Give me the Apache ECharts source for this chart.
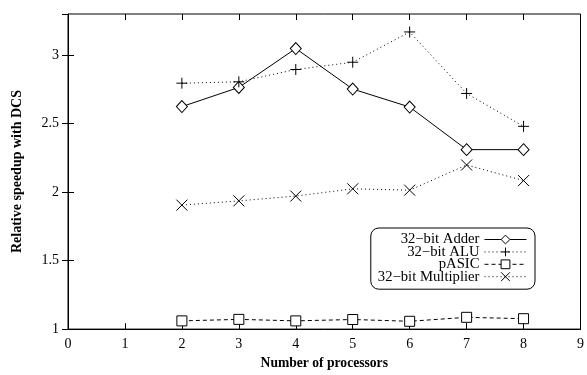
<!DOCTYPE html>
<html>
<head>
<meta charset="utf-8">
<script src="https://cdn.jsdelivr.net/npm/echarts@6/dist/echarts.min.js"></script>
<style>
    html, body { margin: 0; padding: 0; background: #fff; }
    #chart1 { width: 587px; height: 375px; }
</style>
</head>
<body>
<div id="chart1"></div>
<script>
// data
var processors = [2, 3, 4, 5, 6, 7, 8];
var adder = [2.624, 2.764, 3.048, 2.752, 2.621, 2.31, 2.31];
var alu = [2.795, 2.805, 2.895, 2.948, 3.169, 2.72, 2.48];
var pasic = [1.06, 1.071, 1.06, 1.07, 1.057, 1.086, 1.076];
var multiplier = [1.905, 1.936, 1.971, 2.024, 2.014, 2.198, 2.084];
var seriesNames = ['32\u2212bit Adder', '32\u2212bit ALU', 'pASIC', '32\u2212bit Multiplier'];

var serif = "'Liberation Serif', 'DejaVu Serif', serif";
var plusPath = 'path://M5,0L5,10M0,5L10,5';
var crossPath = 'path://M0,0L10,10M0,10L10,0';

function pairs(vals) {
    var out = [];
    for (var i = 0; i < processors.length; i++) {
        out.push([processors[i], vals[i]]);
    }
    return out;
}

function makeSeries(name, vals, symbol, size, dash) {
    return {
        name: name,
        type: 'line',
        symbol: symbol,
        symbolSize: size,
        showAllSymbol: true,
        lineStyle: {
            color: '#000',
            width: 1,
            type: dash
        },
        itemStyle: {
            color: '#fff',
            borderColor: '#000',
            borderWidth: 1
        },
        emphasis: { disabled: true },
        z: 3,
        data: pairs(vals)
    };
}

drawChart1();

// chart1
function drawChart1() {
    var dom1 = document.getElementById("chart1");
    var myChart1 = echarts.init(dom1);
    var tickStyle = { inside: true, length: 6, lineStyle: { color: '#000', width: 1 } };
    var option = {
        backgroundColor: '#fff',
        animation: false,
        textStyle: { fontFamily: serif },
        grid: {
            left: 68,
            right: 5,
            top: 14,
            bottom: 39,
            containLabel: false,
            show: true,
            borderColor: '#000',
            borderWidth: 1
        },
        legend: {
            orient: 'vertical',
            align: 'right',
            right: 52,
            top: 228,
            padding: [4, 8, 5, 7],
            itemGap: -2.6,
            itemWidth: 42,
            itemHeight: 11,
            borderColor: '#000',
            borderWidth: 1,
            borderRadius: 8,
            backgroundColor: '#fff',
            selectedMode: false,
            lineStyle: { width: 1 },
            itemStyle: { borderWidth: 1 },
            textStyle: {
                fontFamily: serif,
                fontSize: 14.7,
                color: '#000'
            },
            data: seriesNames
        },
        xAxis: [{
            type: 'value',
            min: 0,
            max: 9,
            interval: 1,
            name: 'Number of processors',
            nameLocation: 'middle',
            nameGap: 24,
            nameTextStyle: { fontFamily: serif, fontSize: 13.6, fontWeight: 'bold', color: '#000' },
            axisLine: { show: true, onZero: false, lineStyle: { color: '#000', width: 1 } },
            axisTick: tickStyle,
            axisLabel: { fontFamily: serif, fontSize: 14, color: '#000', margin: 8 },
            splitLine: { show: false }
        }, {
            type: 'value',
            position: 'top',
            min: 0,
            max: 9,
            interval: 1,
            axisLine: { show: false },
            axisTick: tickStyle,
            axisLabel: { show: false },
            splitLine: { show: false }
        }],
        yAxis: [{
            type: 'value',
            min: 1,
            max: 3.3,
            interval: 0.5,
            name: 'Relative speedup with DCS',
            nameLocation: 'middle',
            nameGap: 44,
            nameTextStyle: { fontFamily: serif, fontSize: 14, fontWeight: 'bold', color: '#000' },
            axisLine: { show: true, onZero: false, lineStyle: { color: '#000', width: 1 } },
            axisTick: tickStyle,
            axisLabel: {
                fontFamily: serif,
                fontSize: 14,
                color: '#000',
                margin: 9,
                showMaxLabel: false,
                formatter: function (v) {
                    return Math.abs(v - 3.3) < 1e-6 ? '' : String(v);
                }
            },
            splitLine: { show: false }
        }, {
            type: 'value',
            position: 'right',
            min: 1,
            max: 3.3,
            interval: 0.5,
            axisLine: { show: false },
            axisTick: tickStyle,
            axisLabel: { show: false },
            splitLine: { show: false }
        }],
        series: [
            makeSeries(seriesNames[0], adder, 'diamond', [11, 12], 'solid'),
            makeSeries(seriesNames[1], alu, plusPath, 11, [1, 3]),
            makeSeries(seriesNames[2], pasic, 'rect', 10, [4, 3]),
            makeSeries(seriesNames[3], multiplier, crossPath, 11, [1, 3])
        ]
    };
    myChart1.setOption(option, true);
    window.onresize = myChart1.resize;
}
</script>
</body>
</html>
